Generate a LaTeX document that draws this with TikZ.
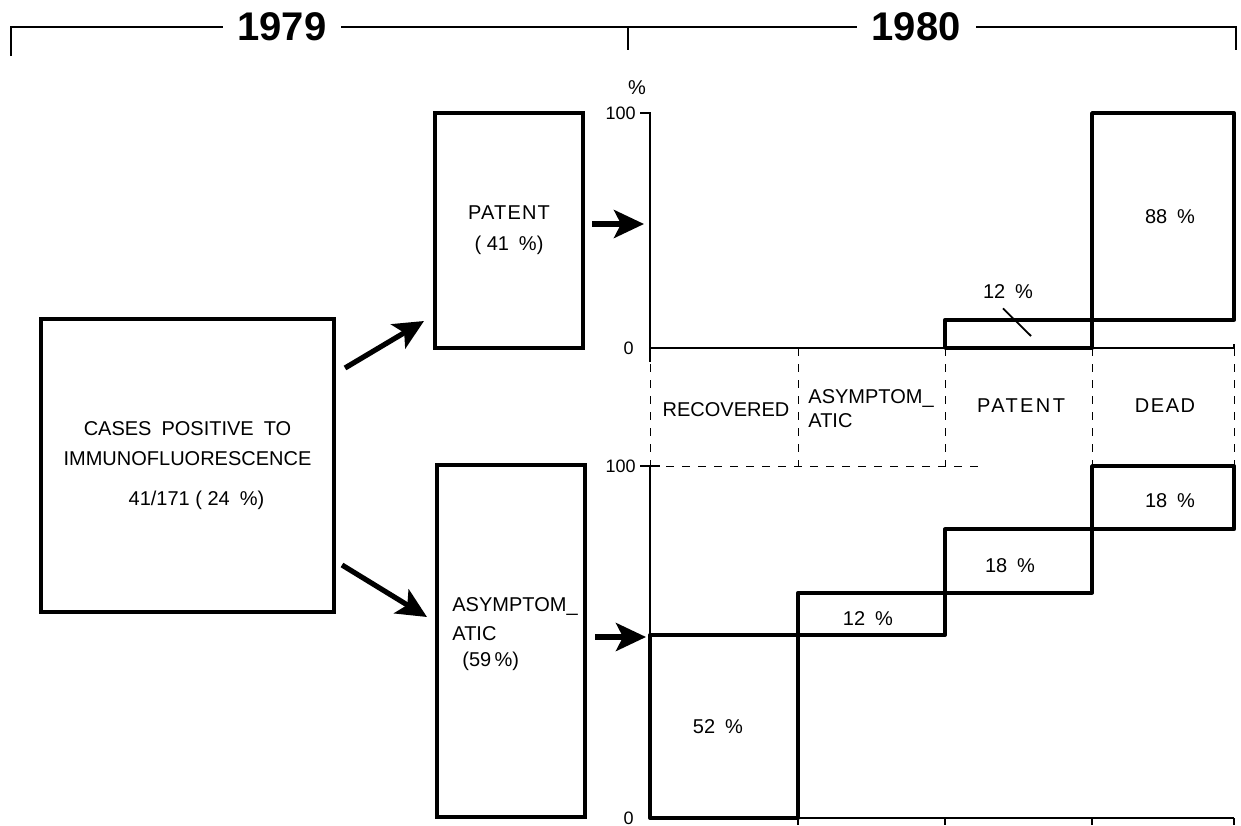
\documentclass[tikz,border=0pt]{standalone}
\usepackage{fontspec}
\setmainfont{Liberation Sans}
\usetikzlibrary{arrows.meta,calc,positioning}

\begin{document}
\begin{tikzpicture}[
  x=0.5pt, y=-0.5pt,
  >=Stealth,
  txt/.style={font=\fontsize{10}{12}\selectfont, inner sep=1pt},
  small/.style={font=\fontsize{9}{11}\selectfont, inner sep=1pt},
  year/.style={font=\fontsize{20}{24}\selectfont\bfseries, fill=white,
               inner xsep=7.5pt, inner ysep=1pt},
  box/.style={draw, line width=1.7pt, inner sep=0pt, outer sep=0pt,
              font=\fontsize{10}{12}\selectfont},
  bar/.style={draw, line width=1.9pt, line join=round},
  axis/.style={line width=0.9pt},
  guide/.style={line width=0.5pt, dash pattern=on 4pt off 4pt},
  lead/.style={line width=0.9pt},
  flow/.style={-{Stealth[length=15pt,width=14pt,inset=3.5pt]}, line width=2.6pt},
]

\useasboundingbox (0,0) rectangle (1241,825);

%% ═══ YEARS ═══════════════════════════════════════════════════════════
\draw[axis] (11,56) -- (11,27) -- (1236,27) -- (1236,50);
\draw[axis] (628,27) -- (628,50);
\node[year] (y79) at (282,27) {1979};
\node[year] (y80) at (916,27) {1980};

%% ═══ 1979 ════════════════════════════════════════════════════════════
\node[box, minimum width=146.5pt, minimum height=146.5pt, align=center] (cases) at (187.5,465.5)
    {CASES\enspace POSITIVE\enspace TO\\[3pt]IMMUNOFLUORESCENCE\\[8pt]\hspace*{0.9em}41/171 ( 24\enspace\%)};
\node[box, minimum width=74pt, minimum height=117.5pt, align=center] (patent) at (509,230.5)
    {\addfontfeature{LetterSpace=6}PATENT\\[3.5pt]( 41\enspace\%)};
\node[box, minimum width=74pt, minimum height=176pt] (asym) at (511,641) {};
\node[txt, align=left, anchor=north west] (asymtxt) at ([shift={(13,130)}]asym.north west)
    {ASYMPTOM\_\\[2.5pt]ATIC\\[1pt]\hspace*{0.5em}(59\,\%)};

% split of the positive cases
\draw[flow] ([shift={(11,49)}]cases.north east) -- ([shift={(-11,-27)}]patent.south west);
\draw[flow] ([shift={(8,-47)}]cases.south east) -- ([shift={(-10,152)}]asym.north west);

% into the 1980 outcome
\coordinate (uin) at (644,224);
\coordinate (lin) at (646,637);
\draw[flow] ([shift={(9,-6.5)}]patent.east) -- (uin);
\draw[flow] ([shift={(10,-4)}]asym.east) -- (lin);

%% ═══ 1980 ════════════════════════════════════════════════════════════
% axes
\node[txt] (pct) at (637,88) {\%};
\draw[axis] (640,113) -- (650,113) -- (650,362);
\draw[axis] (650,348) -- (1234,348) -- (1234,344);
\draw[axis] (640,466) -- (660,466);
\draw[axis] (650,466) -- (650,818) -- (1234,818);
\foreach \x in {798,945,1092,1234}
  \draw[axis] (\x,818) -- (\x,825);
\node[small, anchor=east] (u100) at (638,113) {100};
\node[small, anchor=east] (u0)   at (636,348) {0};
\node[small, anchor=east] (l100) at (638,466) {100};
\node[small, anchor=east] (l0)   at (636,818) {0};

% outcome columns
\foreach \x in {650,798,945,1092,1234}
  \draw[guide] (\x,348) -- (\x,466);
\draw[guide] (650,466) -- (985,466);
\node[txt] (crec) at (726,410) {RECOVERED};
\node[txt, align=left, anchor=west] (casym) at (806,409) {ASYMPTOM\_\\ATIC};
\node[txt] (cpat) at (1021,406) {\addfontfeature{LetterSpace=12}PATENT};
\node[txt] (cdead) at (1165,406) {\addfontfeature{LetterSpace=8}DEAD};

% patent cases
\draw[bar] (945,348) rectangle (1092,{348-2.35*12});
\draw[bar] (1092,{348-2.35*12}) rectangle (1234,113);
\node[txt] (up12) at (1008,292) {12\enspace\%};
\coordinate (slashend) at (1031,336);
\draw[lead] ([shift={(-5,7)}]up12.south) -- (slashend);
\node[txt] (up88) at (1170,217) {88\enspace\%};

% asymptomatic cases
\foreach \xa/\xb/\lo/\hi in {650/798/0/52, 798/945/52/64, 945/1092/64/82, 1092/1234/82/100}
  \draw[bar] (\xa,{818-3.52*\lo}) rectangle (\xb,{818-3.52*\hi});
\node[txt] (lo52) at (718,727) {52\enspace\%};
\node[txt] (lo12) at (868,619) {12\enspace\%};
\node[txt] (lo18a) at (1010,566) {18\enspace\%};
\node[txt] (lo18b) at (1170,501) {18\enspace\%};

\end{tikzpicture}
\end{document}
